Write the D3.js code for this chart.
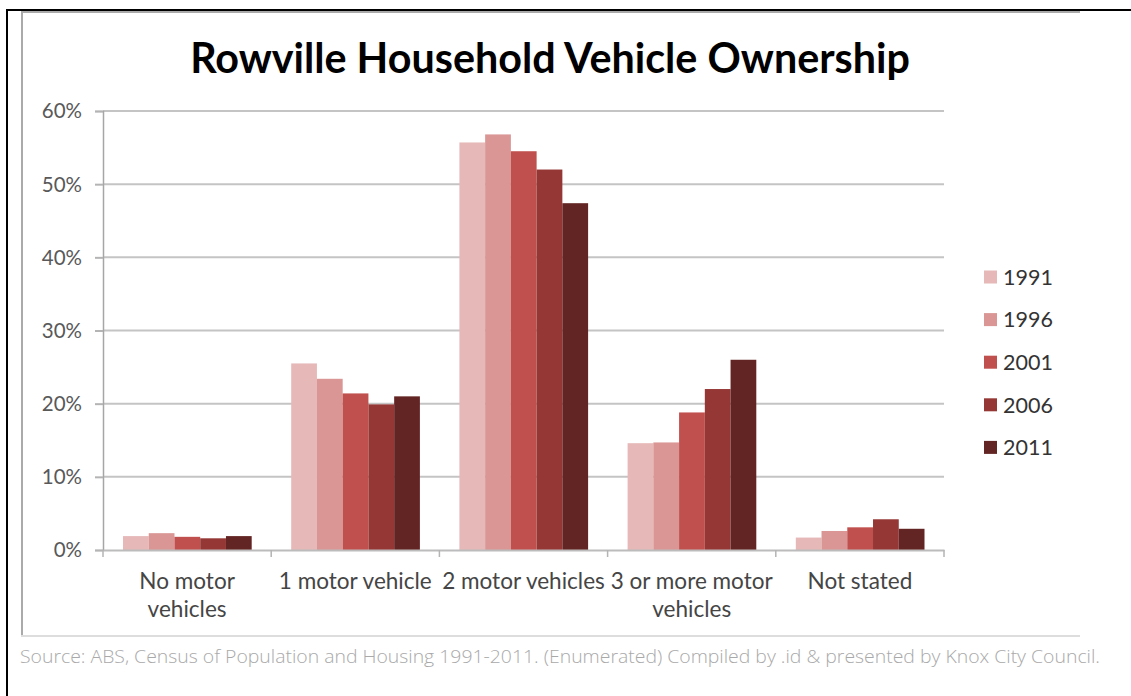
<!DOCTYPE html>
<html>
<head>
<meta charset="utf-8">
<script src="https://cdn.jsdelivr.net/npm/d3@7"></script>
<style>
  html, body { margin: 0; padding: 0; background: #fff; }
  svg { display: block; }
  text { font-family: Lato, "Open Sans", sans-serif; }
</style>
</head>
<body>
<svg id="chart" width="1131" height="696"></svg>
<script>
// Household vehicle ownership in Rowville, share of households by census year
const categories = ["No motor vehicles", "1 motor vehicle", "2 motor vehicles", "3 or more motor vehicles", "Not stated"];
const categoryLines = [["No motor", "vehicles"], ["1 motor vehicle"], ["2 motor vehicles"], ["3 or more motor", "vehicles"], ["Not stated"]];
const years = ["1991", "1996", "2001", "2006", "2011"];
const share1991 = [1.9, 25.5, 55.7, 14.6, 1.7];
const share1996 = [2.3, 23.4, 56.8, 14.7, 2.6];
const share2001 = [1.8, 21.4, 54.5, 18.8, 3.1];
const share2006 = [1.6, 19.9, 52.0, 22.0, 4.2];
const share2011 = [1.9, 21.0, 47.4, 26.0, 2.9];
const yTicks = [0, 10, 20, 30, 40, 50, 60];
const colors = ["#E6B9B8", "#D99694", "#C0504D", "#953735", "#632523"];
const title = "Rowville Household Vehicle Ownership";
const source = "Source: ABS, Census of Population and Housing  1991-2011. (Enumerated) Compiled by .id & presented by Knox City Council.";

const seriesValues = [share1991, share1996, share2001, share2006, share2011];
const rows = categories.map((c, i) => ({
  category: c,
  lines: categoryLines[i],
  values: years.map((yr, j) => ({ year: yr, value: seriesValues[j][i] }))
}));

const svg = d3.select("#chart");

// Frame: black outer rule and grey chart border
svg.append("line").attr("x1", 7).attr("x2", 1131).attr("y1", 10).attr("y2", 10)
  .attr("stroke", "#000").attr("stroke-width", 2);
svg.append("line").attr("x1", 7).attr("x2", 7).attr("y1", 9).attr("y2", 696)
  .attr("stroke", "#000").attr("stroke-width", 2);
svg.append("path").attr("d", "M22,636V12H1080")
  .attr("fill", "none").attr("stroke", "#aaaaaa").attr("stroke-width", 2);
svg.append("line").attr("x1", 21).attr("x2", 1080).attr("y1", 636).attr("y2", 636)
  .attr("stroke", "#dddddd").attr("stroke-width", 2);

// Scales
const plot = { left: 103, right: 944, top: 111, bottom: 550 };
const x0 = d3.scaleBand().domain(categories).range([plot.left, plot.right]).padding(0);
const bw = x0.bandwidth();
const x1 = d3.scaleBand().domain(years).range([20, bw - 19.5]).padding(0);
const y = d3.scaleLinear().domain([0, 60]).range([plot.bottom, plot.top]);

// Grid lines
svg.append("g").selectAll("line").data(yTicks.filter(t => t > 0)).join("line")
  .attr("x1", plot.left).attr("x2", plot.right)
  .attr("y1", d => y(d)).attr("y2", d => y(d))
  .attr("stroke", "#c4c4c4").attr("stroke-width", 2);

// Y axis
const yAxis = svg.append("g").attr("transform", `translate(${plot.left},0)`)
  .call(d3.axisLeft(y).tickValues(yTicks).tickSize(8).tickPadding(13).tickFormat(d => d + "%"));
yAxis.select(".domain").attr("stroke", "#a6a6a6").attr("stroke-width", 1.5);
yAxis.selectAll(".tick line").attr("stroke", "#b4b4b4").attr("stroke-width", 2);
yAxis.selectAll("text").attr("fill", "#595959").attr("font-size", 20.5).attr("dy", "0.34em");

// Bars
const groups = svg.append("g").selectAll("g").data(rows).join("g")
  .attr("transform", d => `translate(${x0(d.category)},0)`);
groups.selectAll("rect").data(d => d.values).join("rect")
  .attr("x", d => x1(d.year))
  .attr("width", x1.bandwidth())
  .attr("y", d => y(d.value))
  .attr("height", d => y(0) - y(d.value))
  .attr("fill", (d, i) => colors[i]);

// X axis
const xAxis = svg.append("g").attr("transform", `translate(0,${plot.bottom})`)
  .call(d3.axisBottom(x0).tickSize(0).tickFormat(""));
xAxis.select(".domain").attr("stroke", "#bcbcbc").attr("stroke-width", 2);
xAxis.selectAll(".tick").remove();
const bounds = categories.map(c => x0(c)).concat([plot.right]);
xAxis.selectAll("line.sep").data(bounds).join("line").attr("class", "sep")
  .attr("x1", d => d).attr("x2", d => d).attr("y1", 0).attr("y2", 7)
  .attr("stroke", "#b4b4b4").attr("stroke-width", 1.5);

// Category labels
const catLabels = svg.append("g").selectAll("text").data(rows).join("text")
  .attr("text-anchor", "middle")
  .attr("fill", "#454545")
  .attr("font-size", 19)
  .attr("transform", d => `translate(${x0(d.category) + bw / 2},589)`);
catLabels.selectAll("tspan").data(d => d.lines).join("tspan")
  .attr("x", 0).attr("dy", (d, i) => i === 0 ? 0 : 28).text(d => d);

// Size category labels so "1 motor vehicle" is 153px wide
(function fitCategories() {
  const ref = catLabels.filter((d, i) => i === 1).node();
  const w = ref.getComputedTextLength();
  catLabels.attr("font-size", 19 * 153 / w);
})();

// Legend
const legend = svg.append("g").selectAll("g").data(years).join("g")
  .attr("transform", (d, i) => `translate(984,${277 + i * 42.6})`);
legend.append("rect").attr("x", 0).attr("y", -6.5).attr("width", 13).attr("height", 13)
  .attr("fill", (d, i) => colors[i]);
legend.append("text").attr("x", 19).attr("dy", "0.36em").attr("fill", "#333")
  .attr("font-size", 21.5).text(d => d);

// Title
const titleText = svg.append("text").attr("x", 550).attr("y", 73)
  .attr("text-anchor", "middle").attr("font-weight", "bold").attr("fill", "#000")
  .attr("font-size", 36).text(title);
{
  const w = titleText.node().getComputedTextLength();
  titleText.attr("font-size", 36 * 720 / w);
}

// Source note
svg.append("text").attr("x", 20).attr("y", 663)
  .attr("fill", "#a9a9a9").attr("font-size", 17.5)
  .attr("textLength", 1080).attr("lengthAdjust", "spacingAndGlyphs")
  .style("font-family", "'Open Sans', sans-serif").attr("font-weight", 300)
  .text(source);
</script>
</body>
</html>
